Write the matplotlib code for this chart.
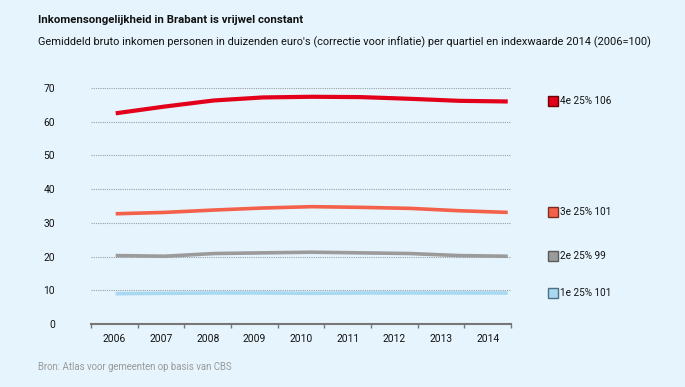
import numpy as np
import matplotlib.pyplot as plt

years = ['2006', '2007', '2008', '2009', '2010', '2011', '2012', '2013', '2014']
q4 = [62.5, 64.5, 66.3, 67.2, 67.4, 67.3, 66.8, 66.2, 66.0]
q3 = [32.7, 33.1, 33.8, 34.4, 34.8, 34.6, 34.3, 33.6, 33.1]
q2 = [20.3, 20.1, 20.9, 21.1, 21.3, 21.1, 20.9, 20.3, 20.1]
q1 = [9.0, 9.1, 9.2, 9.2, 9.1, 9.2, 9.2, 9.2, 9.2]
labels = ['4e 25% 106', '3e 25% 101', '2e 25% 99', '1e 25% 101']
colors = ['#e3001b', '#f4614a', '#9b9b9b', '#a9d9f2']
edges = ['#6a0000', '#7a3020', '#5a5a5a', '#4d6f80']

bg = '#e6f4fd'
plt.rcParams['font.family'] = ['Roboto', 'DejaVu Sans']

fig = plt.figure(figsize=(6.85, 3.87), dpi=100, facecolor=bg)
ax = fig.add_axes([0.1328, 0.1628, 0.6132, 0.6098], facecolor=bg)

x = np.linspace(0.53, 8.93, len(years))
for s, c, ec, lab in zip([q4, q3, q2, q1], colors, edges, labels):
    lw = 3.0 if s is q4 else 2.6
    ax.plot(x, s, color=c, lw=lw, solid_capstyle='butt', clip_on=False, zorder=3)
    ax.plot([1.1], [s[-1]], marker='s', ms=7, color=c, mec=ec, mew=1,
            transform=ax.get_yaxis_transform(), clip_on=False)
    ax.text(1.117, s[-1], lab, transform=ax.get_yaxis_transform(),
            color='#111111', fontsize=7.2, va='center', ha='left')

ax.set_xlim(0, 9)
ax.set_ylim(0, 70)
ax.set_yticks(range(0, 71, 10))
ax.set_xticks(np.arange(9) + 0.5)
ax.set_xticklabels(years)
ax.set_xticks(range(10), minor=True)
for v in range(10, 71, 10):
    ax.axhline(v, color='#9aa0a6', lw=0.8, ls=(0, (1, 1)), zorder=1)

for sp in ['top', 'right', 'left']:
    ax.spines[sp].set_visible(False)
ax.spines['bottom'].set_color('#777777')
ax.spines['bottom'].set_linewidth(1.5)
ax.tick_params(axis='y', length=0, pad=26, labelsize=7.4, labelcolor='#111111')
ax.tick_params(axis='x', which='major', length=0, pad=7, labelsize=7.4, labelcolor='#111111')
ax.tick_params(axis='x', which='minor', length=3, width=1, color='#777777')

fig.text(0.055, 0.948, 'Inkomensongelijkheid in Brabant is vrijwel constant',
         fontsize=8.2, fontweight='bold', color='#111111', va='center')
fig.text(0.055, 0.891, "Gemiddeld bruto inkomen personen in duizenden euro's (correctie voor inflatie) "
         "per quartiel en indexwaarde 2014 (2006=100)", fontsize=7.9, color='#111111', va='center')
fig.text(0.055, 0.052, 'Bron: Atlas voor gemeenten op basis van CBS', fontsize=6.9,
         color='#999999', va='center')

fig.savefig('out.png', dpi=100, facecolor=bg)
